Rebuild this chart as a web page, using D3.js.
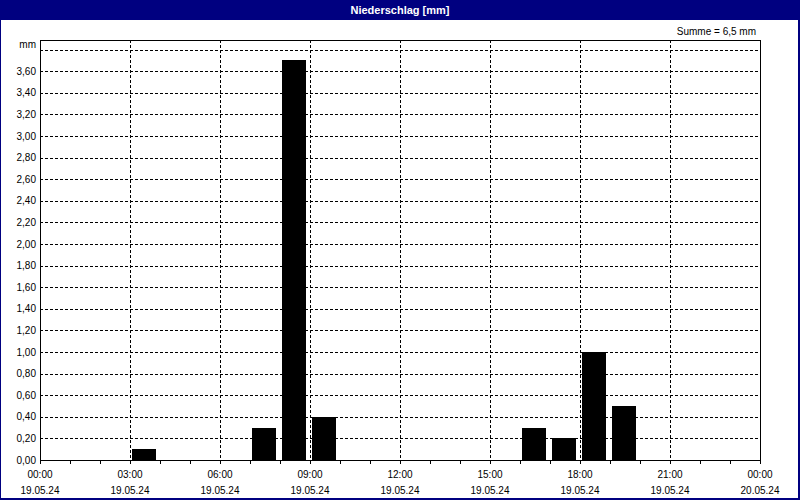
<!DOCTYPE html>
<html><head><meta charset="utf-8">
<script src="https://cdn.jsdelivr.net/npm/d3@7"></script>
<style>
html,body{margin:0;padding:0;background:#fff;}
svg text{font-family:"Liberation Sans",Arial,sans-serif;}
</style></head>
<body>
<svg id="chart" width="800" height="500"></svg>
<script>
const title = "Niederschlag [mm]";
const sumLabel = "Summe = 6,5 mm";
const unitLabel = "mm";
const barHours = [3, 7, 8, 9, 16, 17, 18, 19];
const barValues = [0.1, 0.3, 3.7, 0.4, 0.3, 0.2, 1.0, 0.5];
const yTicks = [0, 0.2, 0.4, 0.6, 0.8, 1.0, 1.2, 1.4, 1.6, 1.8, 2.0, 2.2, 2.4, 2.6, 2.8, 3.0, 3.2, 3.4, 3.6];
const yGridExtra = [3.8];
const xTickHours = [0, 3, 6, 9, 12, 15, 18, 21, 24];
const xTimeLabels = ["00:00", "03:00", "06:00", "09:00", "12:00", "15:00", "18:00", "21:00", "00:00"];
const xDateLabels = ["19.05.24", "19.05.24", "19.05.24", "19.05.24", "19.05.24", "19.05.24", "19.05.24", "19.05.24", "20.05.24"];
const xMinorHours = d3.range(0, 25);

const W = 800, H = 500;
const L = 40, R = 760, T = 40, B = 460;
const svg = d3.select("#chart");

// outer frame + title bar
svg.append("rect").attr("x", 0).attr("y", 0).attr("width", W).attr("height", H).attr("fill", "#fff");
svg.append("rect").attr("x", 0).attr("y", 0).attr("width", W).attr("height", 20).attr("fill", "#000080");
svg.append("rect").attr("x", 0.5).attr("y", 0.5).attr("width", W - 1).attr("height", H - 1)
  .attr("fill", "none").attr("stroke", "#000080").attr("stroke-width", 1);
svg.append("line").attr("x1", W - 1.5).attr("x2", W - 1.5).attr("y1", 0).attr("y2", H).attr("stroke", "#000080");
svg.append("line").attr("x1", 0).attr("x2", W).attr("y1", H - 1.5).attr("y2", H - 1.5).attr("stroke", "#000080");
svg.append("text").attr("x", W / 2).attr("y", 14).attr("text-anchor", "middle")
  .attr("fill", "#fff").attr("font-size", 11).attr("font-weight", "bold").text(title);

const x = d3.scaleLinear().domain([0, 24]).range([L, R]);
const y = d3.scaleLinear().domain([0, 420 / 108]).range([B, T]);

// horizontal grid
const hg = yTicks.filter(v => v > 0).concat(yGridExtra);
svg.append("g").selectAll("line").data(hg).join("line")
  .attr("x1", L).attr("x2", R)
  .attr("y1", d => Math.round(y(d)) + 0.5).attr("y2", d => Math.round(y(d)) + 0.5)
  .attr("stroke", "#000").attr("stroke-width", 1).attr("stroke-dasharray", "3,2");
// vertical grid
svg.append("g").selectAll("line").data(xTickHours.filter(h => h > 0 && h < 24)).join("line")
  .attr("x1", d => Math.round(x(d)) + 0.5).attr("x2", d => Math.round(x(d)) + 0.5)
  .attr("y1", T).attr("y2", B)
  .attr("stroke", "#000").attr("stroke-width", 1).attr("stroke-dasharray", "3,2");

// bars
svg.append("g").selectAll("rect").data(barHours.map((h, i) => ({h, v: barValues[i]}))).join("rect")
  .attr("x", d => Math.round(x(d.h)) + 2)
  .attr("width", d => Math.round(x(d.h + 0.8)) - Math.round(x(d.h)))
  .attr("y", d => Math.round(y(d.v)))
  .attr("height", d => B - Math.round(y(d.v)))
  .attr("fill", "#000");

// frame
svg.append("rect").attr("x", L + 0.5).attr("y", T + 0.5).attr("width", R - L).attr("height", B - T)
  .attr("fill", "none").attr("stroke", "#000").attr("stroke-width", 1);

// x axis minor ticks
svg.append("g").selectAll("line").data(xMinorHours).join("line")
  .attr("x1", d => Math.round(x(d)) + 0.5).attr("x2", d => Math.round(x(d)) + 0.5)
  .attr("y1", B).attr("y2", B + 4)
  .attr("stroke", "#000");

// x labels
const xl = svg.append("g").attr("font-size", 10).attr("fill", "#000").attr("text-anchor", "middle");
xl.selectAll("text.t").data(xTickHours).join("text").attr("class", "t")
  .attr("x", d => x(d)).attr("y", 478).text((d, i) => xTimeLabels[i]);
xl.selectAll("text.d").data(xTickHours).join("text").attr("class", "d")
  .attr("x", d => x(d)).attr("y", 494).text((d, i) => xDateLabels[i]);

// y labels
const fmt = v => d3.format(".2f")(v).replace(".", ",");
svg.append("g").attr("font-size", 10).attr("fill", "#000").attr("text-anchor", "end")
  .selectAll("text").data(yTicks).join("text")
  .attr("x", 36).attr("y", d => y(d) + 3.5).text(d => fmt(d));
svg.append("text").attr("x", 36).attr("y", 48).attr("text-anchor", "end")
  .attr("font-size", 10).attr("fill", "#000").text(unitLabel);

svg.append("text").attr("x", 756).attr("y", 35).attr("text-anchor", "end")
  .attr("font-size", 10).attr("fill", "#000").text(sumLabel);
</script>
</body></html>
